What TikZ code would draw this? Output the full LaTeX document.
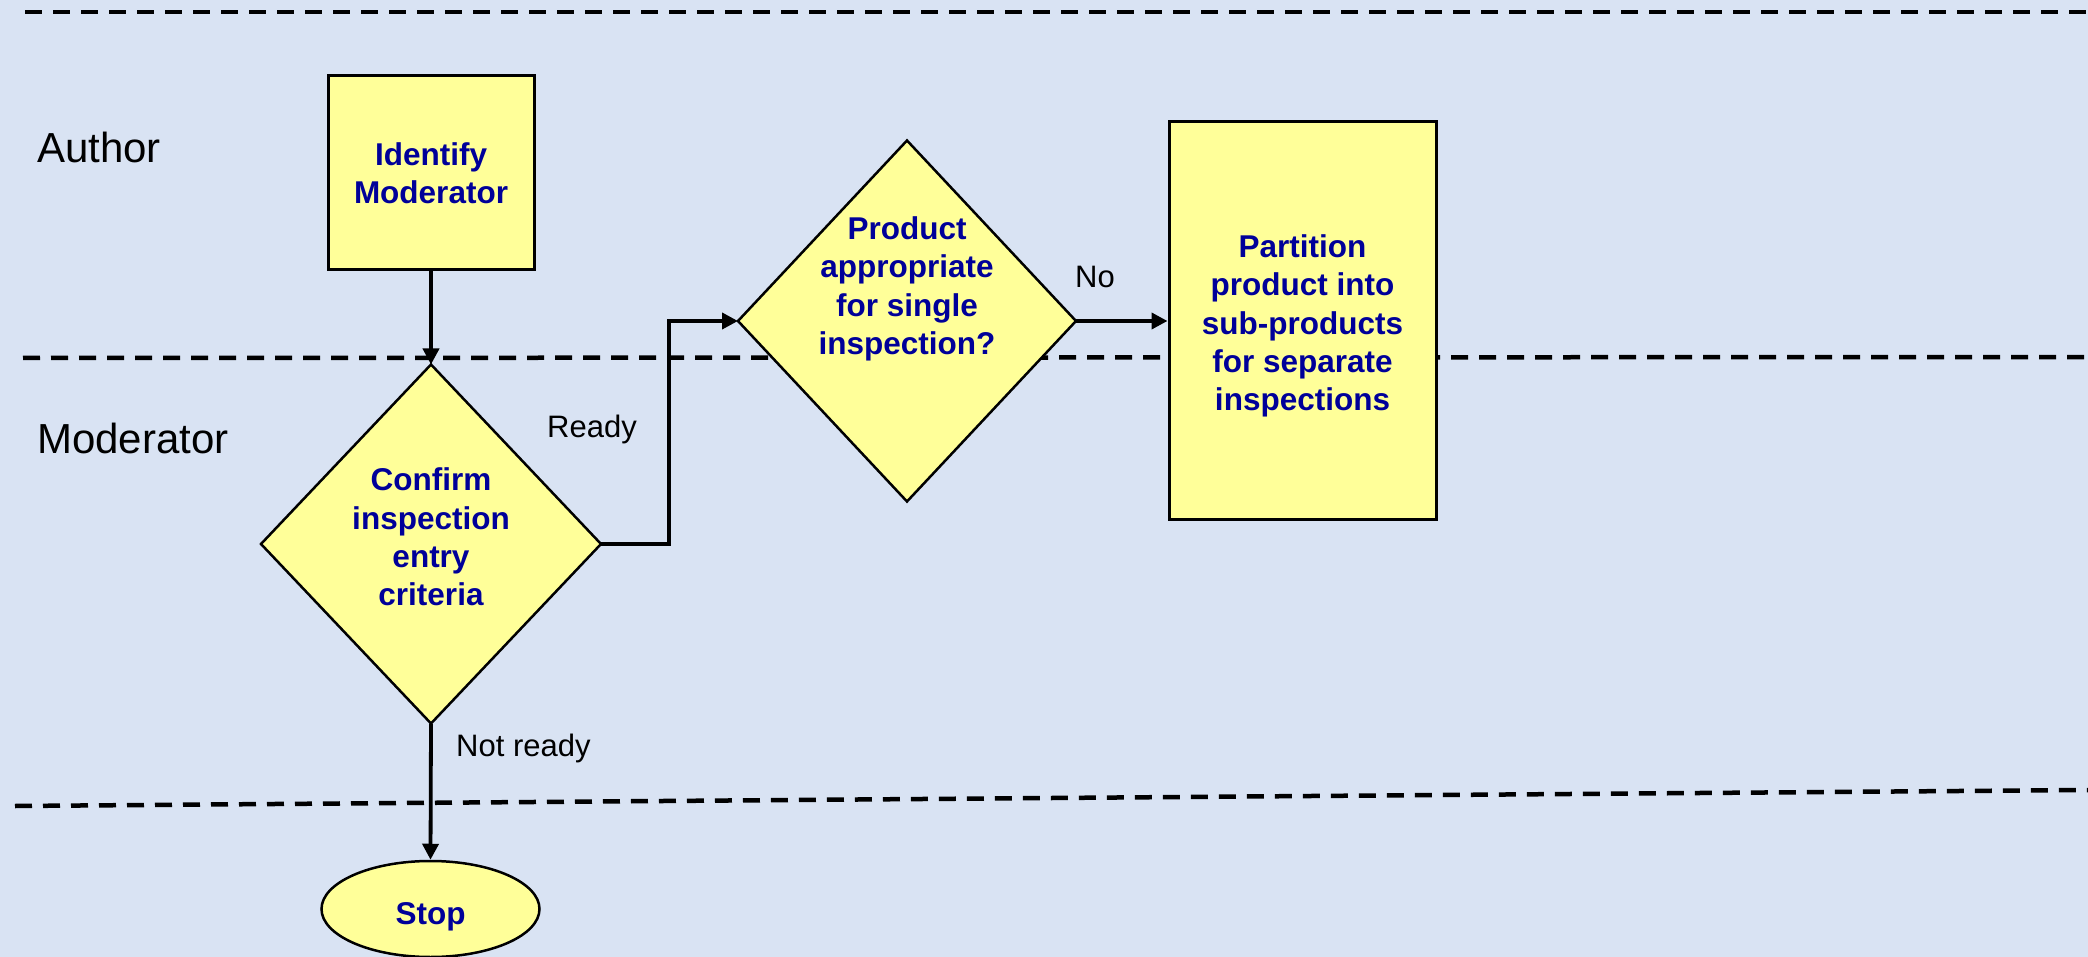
\documentclass[tikz,border=0pt]{standalone}
\usepackage{fontspec}
\setmainfont{Liberation Sans}
\usetikzlibrary{shapes.geometric,arrows.meta}
\definecolor{bgblue}{RGB}{217,227,243}
\definecolor{ylw}{RGB}{255,255,153}
\definecolor{navy}{RGB}{0,0,153}
\tikzset{
  lane/.style={line width=4.5pt, dash pattern=on 17pt off 11pt},
  procbox/.style={rectangle, draw, line width=3pt, fill=ylw, inner sep=0pt},
  decision/.style={diamond, draw, line width=2.5pt, fill=ylw, inner sep=0pt, outer sep=0pt},
  term/.style={ellipse, draw, line width=2.5pt, fill=ylw, inner sep=0pt, minimum width=218pt, minimum height=96pt},
  nodetext/.style={font=\bfseries\fontsize{31.5}{38.3}\selectfont, text=navy, align=center, inner sep=0pt},
  lbl/.style={font=\fontsize{31}{37}\selectfont, inner sep=0pt, anchor=base west},
  lanelbl/.style={font=\fontsize{42}{50}\selectfont, inner sep=0pt, anchor=base west},
  conn/.style={line width=3.8pt, -{Triangle[length=16pt,width=16pt]}}
}
\begin{document}
\begin{tikzpicture}[x=1pt,y=-1pt]
\fill[bgblue] (0,0) rectangle (2088,957);
\useasboundingbox (0,0) rectangle (2088,957);
% swimlane separators
\draw[lane] (25,12) -- (2088,12);
\draw[lane] (23,358) -- (2088,357);
\draw[lane] (15,806) -- (2088,790);
% lane labels
\node[lanelbl] (author) at (37,163) {Author};
\node[lanelbl] (moderator) at (37,453) {Moderator};
% nodes
\node[procbox, minimum width=206pt, minimum height=194pt] (identify) at (431,173) {};
\node[nodetext] (identifytext) at (431,173) {Identify\\Moderator};
\node[decision, minimum width=340pt, minimum height=359pt] (confirm) at (431,544) {};
\node[nodetext] (confirmtext) at (431,537) {Confirm\\inspection\\entry\\criteria};
\node[decision, minimum width=338pt, minimum height=361pt] (product) at (907,321) {};
\node[nodetext] (producttext) at (907,289) {Product\\appropriate\\for single\\inspection?};
\node[procbox, minimum width=267pt, minimum height=397pt] (partition) at (1302.5,320.5) {};
\node[nodetext] (partitiontext) at (1302.5,326) {Partition\\product into\\sub-products\\for separate\\inspections};
\node[term] (stop) at (430.5,909) {};
\node[nodetext] (stoptext) at (430.5,917) {Stop};
% connectors
\draw[conn] (identify.south) -- (confirm.north);
\draw[conn] (confirm.east) -- ++(68,0) |- (product.west);
\draw[conn] (product.east) -- (product.east -| partition.west);
\draw[conn] (confirm.south) -- (stop.north);
% connector labels
\node[lbl] (ready) at (547,437) {Ready};
\node[lbl] (no) at (1075,288) {No};
\node[lbl] (notready) at (456,756) {Not ready};
\end{tikzpicture}
\end{document}
